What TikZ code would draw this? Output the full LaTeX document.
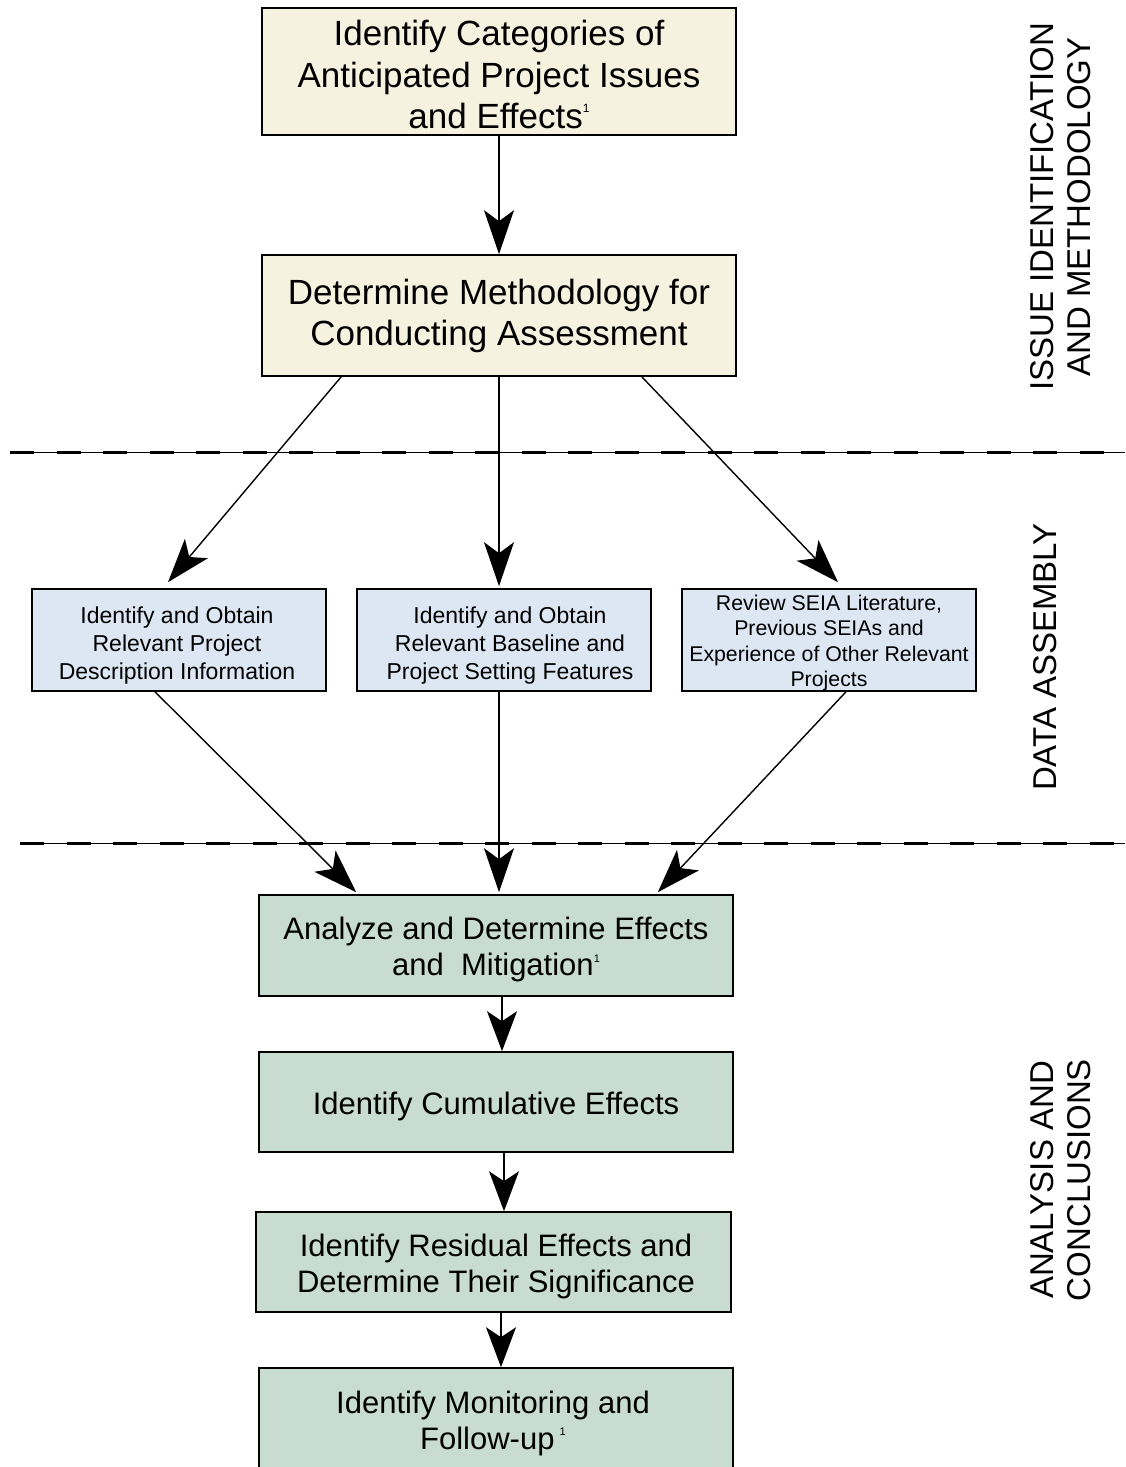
\documentclass[tikz,border=0pt]{standalone}
\usepackage{fontspec}
\setmainfont{Liberation Sans}
\usetikzlibrary{arrows.meta,calc}
\definecolor{cream}{HTML}{F5F2E0}
\definecolor{lblue}{HTML}{DCE7F3}
\definecolor{sage}{HTML}{C8DCD1}
\newcommand{\supbig}{\raisebox{16pt}{\fontsize{12}{12}\selectfont 1}}
\newcommand{\supsml}{\raisebox{13.5pt}{\fontsize{11}{11}\selectfont 1}}
\begin{document}
\begin{tikzpicture}[x=1pt,y=-1pt,
  box/.style={draw=black,line width=1.6pt,inner sep=0pt},
  bigtxt/.style={align=center,font=\fontsize{35}{41.5}\selectfont},
  lowtxt/.style={align=center,font=\fontsize{31}{36}\selectfont},
  midtxt/.style={align=center,font=\fontsize{23}{28}\selectfont},
  smltxt/.style={align=center,font=\fontsize{21.3}{25.5}\selectfont},
  sidetxt/.style={rotate=90,align=center,font=\fontsize{33}{37}\selectfont},
  arr/.style={-{Stealth[length=44pt,width=30pt,inset=11pt]},line width=1.4pt},
  sarr/.style={-{Stealth[length=40pt,width=30pt,inset=10pt]},line width=1.4pt},
  sep/.style={line width=3pt,dash pattern=on 24pt off 22.5pt}
]
\useasboundingbox (0,0) rectangle (1125,1467);

% separators
\draw[line width=0.6pt] (10,452) -- (1125,452);
\draw[sep] (10,452) -- (1125,452);
\draw[line width=0.6pt] (20,843) -- (1125,843);
\draw[sep] (20,843) -- (1125,843);

% top boxes
\node[box,fill=cream,minimum width=474pt,minimum height=127pt] (b1) at (499,71.5) {};
\node[bigtxt] (t1) at (499,74.5)
  {Identify Categories of\\Anticipated Project Issues\\and Effects\supbig};
\node[box,fill=cream,minimum width=474pt,minimum height=121pt] (b2) at (499,315.5) {};
\node[bigtxt] (t2) at (499,316)
  {Determine Methodology for\\Conducting Assessment};

% data boxes
\node[box,fill=lblue,minimum width=294pt,minimum height=102pt] (b3) at (179,640) {};
\node[midtxt] (t3) at (177,646)
  {Identify and Obtain\\Relevant Project\\Description Information};
\node[box,fill=lblue,minimum width=294pt,minimum height=102pt] (b4) at (504,640) {};
\node[midtxt] (t4) at (510,646)
  {Identify and Obtain\\Relevant Baseline and\\Project Setting Features};
\node[box,fill=lblue,minimum width=294pt,minimum height=102pt] (b5) at (829,640) {};
\node[smltxt] (t5) at (829,643)
  {Review SEIA Literature,\\Previous SEIAs and\\Experience of Other Relevant\\Projects};

% analysis boxes
\node[box,fill=sage,minimum width=474pt,minimum height=101pt] (b6) at (496,945.5) {};
\node[lowtxt] (t6) at (496,949.5)
  {Analyze and Determine Effects\\and\ \ Mitigation\supsml};
\node[box,fill=sage,minimum width=474pt,minimum height=100pt] (b7) at (496,1102) {};
\node[lowtxt] (t7) at (496,1106) {Identify Cumulative Effects};
\node[box,fill=sage,minimum width=475pt,minimum height=100pt] (b8) at (493.5,1262) {};
\node[lowtxt] (t8) at (496,1266.5)
  {Identify Residual Effects and\\Determine Their Significance};
\node[box,fill=sage,minimum width=474pt,minimum height=120pt] (b9) at (496,1428) {};
\node[lowtxt] (t9) at (493,1423) {Identify Monitoring and\\Follow-up\,\supsml};

% side labels
\node[sidetxt] (s1) at (1061,207) {ISSUE IDENTIFICATION\\AND METHODOLOGY};
\node[sidetxt] (s2) at (1045,657) {DATA ASSEMBLY};
\node[sidetxt] (s3) at (1061,1180) {ANALYSIS AND\\CONCLUSIONS};

% connectors
\draw[arr] (b1.south) -- (b2.north);
\draw[arr] ($(b2.south west)+(80,0)$) -- ($(b3.north)+(-11,-6)$);
\draw[arr] (b2.south) -- ($(b2.south |- b4.north)+(0,-2)$);
\draw[arr] ($(b2.south east)+(-95,0)$) -- ($(b5.north)+(9,-6)$);

\draw[arr] ($(b3.south)+(-24,0)$) -- ($(b6.north west)+(98,-2)$);
\draw[arr] ($(b2.south |- b4.south)$) -- ($(b2.south |- b6.north)+(0,-2)$);
\draw[arr] ($(b5.south)+(17,0)$) -- ($(b6.north east)+(-76,-2)$);

\draw[sarr] ($(b6.south)+(6,0)$) -- ($(b7.north)+(6,0)$);
\draw[sarr] ($(b7.south)+(8,0)$) -- ($(b8.north)+(10.5,0)$);
\draw[sarr] ($(b8.south)+(7.5,0)$) -- ($(b9.north)+(5,0)$);
\end{tikzpicture}
\end{document}
